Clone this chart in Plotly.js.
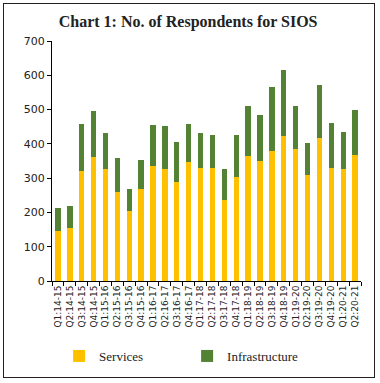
<!DOCTYPE html>
<html>
<head>
<meta charset="utf-8">
<script src="https://cdn.plot.ly/plotly-3.0.1.min.js"></script>
<style>
  html, body { margin: 0; padding: 0; background: #fff; }
  #wrap { position: relative; width: 380px; height: 383px; }
  #chart { width: 380px; height: 383px; }
  #frame { position: absolute; left: 3px; top: 3px; width: 370px; height: 373px; border: 1.5px solid #222; pointer-events: none; }
</style>
</head>
<body>
<div id="wrap">
  <div id="chart"></div>
  <div id="frame"></div>
</div>
<script>
const quarters = ["Q1:14-15","Q2:14-15","Q3:14-15","Q4:14-15","Q1:15-16","Q2:15-16","Q3:15-16","Q4:15-16",
  "Q1:16-17","Q2:16-17","Q3:16-17","Q4:16-17","Q1:17-18","Q2:17-18","Q3:17-18","Q4:17-18",
  "Q1:18-19","Q2:18-19","Q3:18-19","Q4:18-19","Q1:19-20","Q2:19-20","Q3:19-20","Q4:19-20",
  "Q1:20-21","Q2:20-21"];
const services = [145,155,322,362,326,261,203,269,335,328,290,348,329,329,237,304,366,350,379,423,386,308,416,329,327,367];
const infrastructure = [67,65,137,134,106,99,64,83,120,124,114,110,104,97,89,122,145,134,188,191,125,95,157,132,109,133];
const yTicks = [0,100,200,300,400,500,600,700];

const traces = [
  { type: 'bar', name: 'Services', x: quarters, y: services, marker: { color: '#FFC000' } },
  { type: 'bar', name: 'Infrastructure', x: quarters, y: infrastructure, marker: { color: '#548235' } }
];

const layout = {
  width: 380, height: 383,
  margin: { l: 52, r: 19, t: 41, b: 87 },
  paper_bgcolor: '#fff', plot_bgcolor: '#fff',
  barmode: 'stack', bargap: 0.55,
  showlegend: true,
  title: { text: 'Chart 1: No. of Respondents for SIOS', font: { family: 'Liberation Serif', size: 16, color: '#222', weight: 'bold' },
    x: 0.495, xref: 'container', xanchor: 'center', y: 0.943, yref: 'container', yanchor: 'middle' },
  xaxis: { type: 'category', tickangle: -90, tickson: 'boundaries', ticks: 'outside', ticklen: 4, tickcolor: '#000',
    showline: true, linecolor: '#000', linewidth: 1, showgrid: false, zeroline: false,
    tickfont: { family: 'DejaVu Sans', size: 9, color: '#222' } },
  yaxis: { range: [0, 700], tickvals: yTicks, ticks: 'outside', ticklen: 4, tickcolor: '#000',
    showline: true, linecolor: '#000', linewidth: 1, showgrid: false, zeroline: false,
    tickfont: { family: 'DejaVu Sans', size: 11, color: '#222' } },
  legend: { orientation: 'h', x: 0.023, xanchor: 'left', y: -0.25, yanchor: 'top',
    entrywidth: 83, entrywidthmode: 'pixels', itemwidth: 30,
    font: { family: 'Liberation Serif', size: 13, color: '#222' }, traceorder: 'normal' }
};

Plotly.newPlot('chart', traces, layout, { displayModeBar: false, staticPlot: true });
</script>
</body>
</html>
